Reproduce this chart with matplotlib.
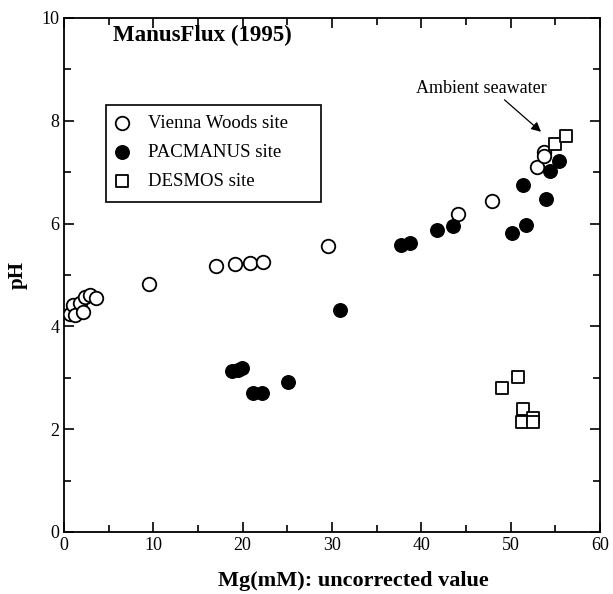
import matplotlib
matplotlib.use("Agg")
import matplotlib.pyplot as plt
from matplotlib.ticker import MultipleLocator
from matplotlib.patches import Rectangle

plt.rcParams['font.family'] = ['Liberation Serif', 'DejaVu Serif']

# Vienna Woods site (open circles)
vw_mg = [0.7, 1.0, 1.2, 1.8, 2.1, 2.35, 2.9, 3.6, 9.5, 17.0, 19.1, 20.8, 22.3, 29.6, 44.1, 47.9, 53.0, 53.75, 53.75]
vw_ph = [4.25, 4.42, 4.22, 4.46, 4.28, 4.57, 4.61, 4.55, 4.82, 5.17, 5.21, 5.23, 5.25, 5.56, 6.18, 6.44, 7.10, 7.39, 7.31]

# PACMANUS site (filled circles)
pm_mg = [18.8, 19.5, 19.9, 21.2, 22.2, 25.1, 30.9, 37.7, 38.7, 41.8, 43.6, 50.2, 51.7, 51.4, 53.9, 54.4, 55.4]
pm_ph = [3.13, 3.16, 3.19, 2.70, 2.70, 2.92, 4.32, 5.58, 5.62, 5.88, 5.95, 5.82, 5.97, 6.75, 6.48, 7.02, 7.22]

# DESMOS site (open squares)
ds_mg = [55.0, 56.2, 49.0, 50.8, 51.4, 51.3, 52.5, 52.5]
ds_ph = [7.55, 7.71, 2.80, 3.02, 2.39, 2.14, 2.22, 2.14]

fig = plt.figure(figsize=(6.13, 5.94), dpi=100)
ax = fig.add_axes([0.1044, 0.1044, 0.8744, 0.8653])

ax.scatter(vw_mg, vw_ph, s=95, facecolors='white', edgecolors='black', linewidths=1.3,
           marker='o', label='Vienna Woods site', zorder=3)
ax.scatter(pm_mg, pm_ph, s=95, facecolors='black', edgecolors='black', linewidths=1.0,
           marker='o', label='PACMANUS site', zorder=3)
ax.scatter(ds_mg, ds_ph, s=65, facecolors='white', edgecolors='black', linewidths=1.3,
           marker='s', label='DESMOS site', zorder=4)

ax.set_xlim(0, 60)
ax.set_ylim(0, 10)
ax.xaxis.set_major_locator(MultipleLocator(10))
ax.xaxis.set_minor_locator(MultipleLocator(5))
ax.yaxis.set_major_locator(MultipleLocator(2))
ax.yaxis.set_minor_locator(MultipleLocator(1))
ax.tick_params(which='both', direction='in', top=True, right=True, labelsize=13, width=1.2)
ax.tick_params(which='major', length=7)
ax.tick_params(which='minor', length=5)
for sp in ax.spines.values():
    sp.set_linewidth(1.3)

ax.set_xlabel('Mg(mM): uncorrected value', fontsize=16, fontweight='bold')
ax.xaxis.set_label_coords(0.54, -0.075)
ax.set_ylabel('pH', fontsize=15, fontweight='bold', labelpad=10)

ax.text(0.091, 0.955, 'ManusFlux (1995)', transform=ax.transAxes, fontsize=16.5,
        fontweight='bold', ha='left', va='baseline')

ax.annotate('Ambient seawater', xy=(54.1, 7.68), xytext=(54.07, 8.54),
            fontsize=13, ha='right', va='baseline',
            arrowprops=dict(arrowstyle='-|>', color='black', lw=0.9, mutation_scale=14,
                            shrinkA=0, shrinkB=6, relpos=(0.65, 0.0)))

# legend frame
ax.add_patch(Rectangle((0.0784, 0.642), 0.4011, 0.1887, transform=ax.transAxes,
                       facecolor='white', edgecolor='black', linewidth=1.2, zorder=5))
leg = ax.legend(loc='upper left', bbox_to_anchor=(0.0914, 0.811), fontsize=13.5,
                frameon=False, borderpad=0, handlelength=1.0,
                handletextpad=0.85, labelspacing=0.62, borderaxespad=0)
leg.set_zorder(6)

fig.savefig('out.png', dpi=100)
